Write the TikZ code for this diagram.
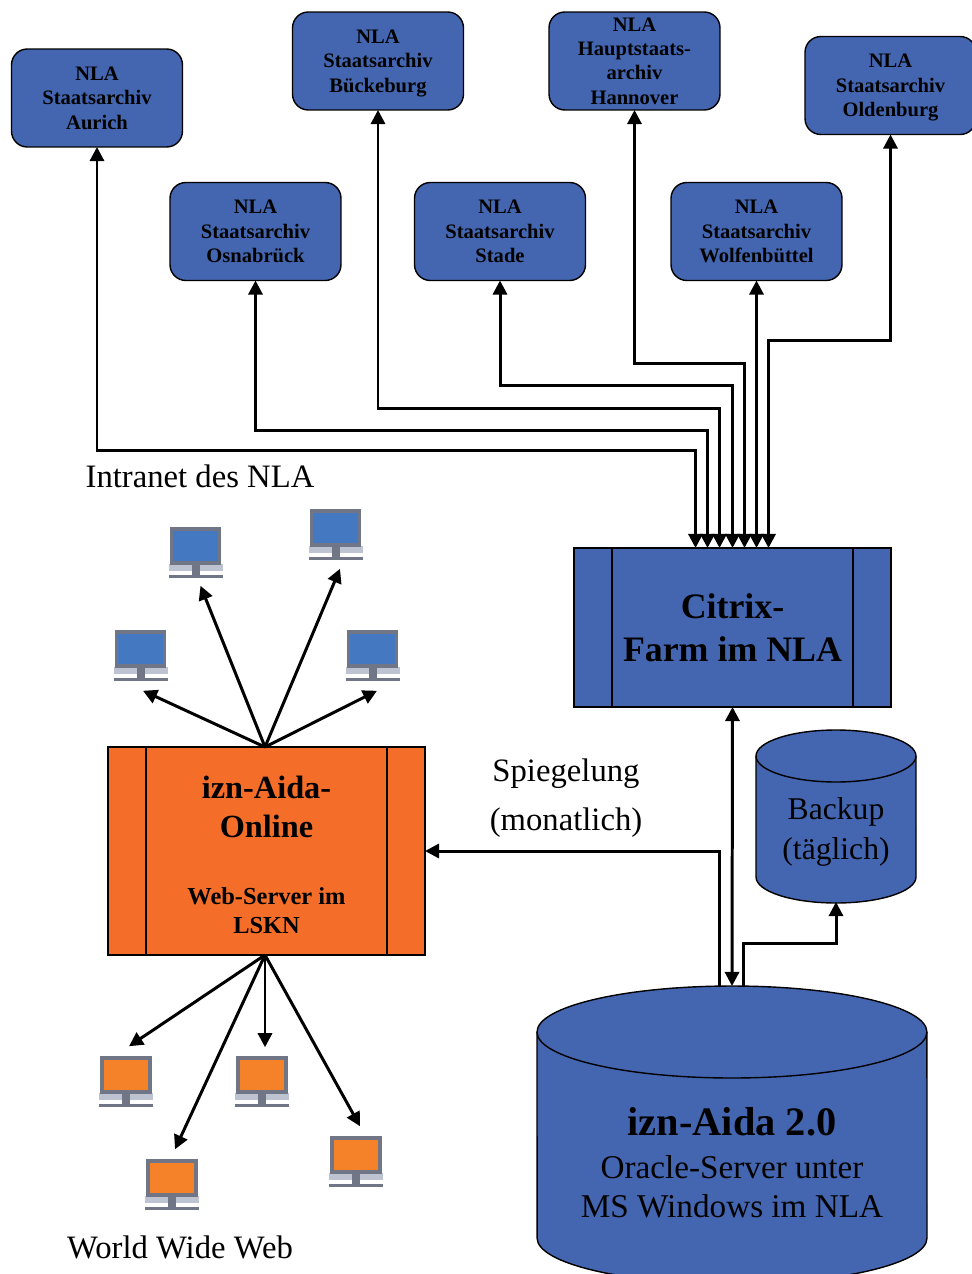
\documentclass[tikz,border=0pt]{standalone}
\usepackage{fontspec}
\setmainfont{Liberation Serif}
\usetikzlibrary{arrows.meta}
\definecolor{nlablue}{RGB}{68,102,176}
\definecolor{lsknorange}{RGB}{244,110,42}
\definecolor{screenblue}{RGB}{68,120,192}
\definecolor{screenorange}{RGB}{245,130,40}
\definecolor{framegray}{RGB}{112,118,134}
\definecolor{basegray}{RGB}{190,195,210}
\tikzset{
	archiv/.style={draw,thick,fill=nlablue,rounded corners=9pt,minimum width=3.42cm,minimum height=1.96cm,inner sep=0pt,outer sep=0pt,text depth=0pt,align=center,font=\fontsize{11.7}{13.9}\selectfont\bfseries},
	server/.style={draw,thick,inner sep=0pt,outer sep=0pt,align=center,minimum width=6.34cm,
		path picture={\draw[thick] ([xshift=0.76cm]path picture bounding box.north west) -- ([xshift=0.76cm]path picture bounding box.south west);
			\draw[thick] ([xshift=-0.76cm]path picture bounding box.north east) -- ([xshift=-0.76cm]path picture bounding box.south east);}},
	dbase/.style={draw,thick,fill=nlablue},
	dbspot/.style={inner sep=0pt,outer sep=0pt},
	dbtext/.style={align=center,inner sep=0pt},
	caption/.style={align=center,inner sep=0pt,font=\fontsize{18.6}{27.5}\selectfont},
	link/.style={line width=1.7pt,-{Triangle[width=8pt,length=8pt]}},
	linkboth/.style={line width=1.7pt,{Triangle[width=8pt,length=8pt]}-{Triangle[width=8pt,length=8pt]}},
	screen/.style={draw=framegray,line width=2pt,inner sep=0pt},
}
% screen with its stand, #1 name, #2 #3 centre of the screen, #4 colour
\newcommand{\monitor}[4]{
	\fill[basegray] (#2-27,#3+18) rectangle (#2+27,#3+25);
	\fill[framegray] (#2-4,#3+18) rectangle (#2+4,#3+29);
	\fill[framegray] (#2-27,#3+29) rectangle (#2+27,#3+31.5);
	\node[screen,fill=#4,minimum width=0.96cm,minimum height=0.68cm] (#1) at (#2,#3) {};
}
\begin{document}
\begin{tikzpicture}[x=0.02cm,y=-0.02cm]
	\useasboundingbox (0,0) rectangle (971,1274);
	% archives
	\node[archiv] (aurich) at (97,98) {NLA\\Staatsarchiv\\Aurich};
	\node[archiv] (bueckeburg) at (378,61) {NLA\\Staatsarchiv\\Bückeburg};
	\node[archiv] (hannover) at (634.5,61) {NLA\\Hauptstaats-\\archiv\\Hannover};
	\node[archiv] (oldenburg) at (890.5,85.5) {NLA\\Staatsarchiv\\Oldenburg};
	\node[archiv] (osnabrueck) at (255.5,231.5) {NLA\\Staatsarchiv\\Osnabrück};
	\node[archiv] (stade) at (500,231.5) {NLA\\Staatsarchiv\\Stade};
	\node[archiv] (wolfenbuettel) at (756.5,231.5) {NLA\\Staatsarchiv\\Wolfenbüttel};
	% servers
	\node[server,fill=nlablue,minimum height=3.18cm,font=\fontsize{20.4}{24.4}\selectfont\bfseries] (citrix) at (732.5,627.5) {Citrix-\\Farm im NLA};
	\node[server,fill=lsknorange,minimum height=4.16cm,font=\fontsize{18.4}{22}\selectfont\bfseries] (online) at (266.5,851) {\rule{0pt}{17pt}izn-Aida-\\Online\\[16pt]{\fontsize{13.9}{16.5}\selectfont Web-Server im}\\[-5.5pt]{\fontsize{13.9}{16.5}\selectfont LSKN}};
	% databases
	\draw[dbase] (756,756) arc[start angle=180,end angle=0,x radius=1.6cm,y radius=0.52cm] -- (916,877) arc[start angle=0,end angle=-180,x radius=1.6cm,y radius=0.52cm] -- cycle;
	\draw[thick] (756,756) arc[start angle=180,end angle=360,x radius=1.6cm,y radius=0.52cm];
	\node[dbspot,minimum width=3.2cm,minimum height=3.44cm] (backup) at (836,816) {};
	\draw[dbase] (537,1032) arc[start angle=180,end angle=0,x radius=3.9cm,y radius=0.92cm] -- (927,1238) arc[start angle=0,end angle=-180,x radius=3.9cm,y radius=0.92cm] -- cycle;
	\draw[thick] (537,1032) arc[start angle=180,end angle=360,x radius=3.9cm,y radius=0.92cm];
	\node[dbspot,minimum width=7.8cm,minimum height=5.96cm] (oracle) at (732,1135) {};
	\node[dbtext,font=\fontsize{18}{22.5}\selectfont] (backuptext) at (836,832) {Backup\\(täglich)};
	\node[dbtext,font=\fontsize{18.9}{22}\selectfont] (oracletext) at (732,1163) {{\fontsize{23}{26}\selectfont\bfseries izn-Aida 2.0}\\[2.5pt]Oracle-Server unter\\MS Windows im NLA};
	% captions
	\node[caption] (intranet) at (200,476) {Intranet des NLA};
	\node[caption] (www) at (180,1247) {World Wide Web};
	\node[caption] (spiegelung) at (566,798) {Spiegelung\\(monatlich)};
	% monitors
	\monitor{pcA}{195.5}{546}{screenblue}
	\monitor{pcB}{335.5}{528}{screenblue}
	\monitor{pcC}{140.5}{649}{screenblue}
	\monitor{pcD}{372.5}{649}{screenblue}
	\monitor{webA}{126}{1075}{screenorange}
	\monitor{webB}{262}{1075}{screenorange}
	\monitor{webC}{172}{1178}{screenorange}
	\monitor{webD}{356}{1155}{screenorange}
	% intranet lines
	\draw[linkboth] ([shift={(-37,0)}]citrix.north) -- ++(0,-98) -| (aurich.south);
	\draw[linkboth] ([shift={(-25,0)}]citrix.north) -- ++(0,-118) -| (osnabrueck.south);
	\draw[linkboth] ([shift={(-13,0)}]citrix.north) -- ++(0,-140) -| (bueckeburg.south);
	\draw[linkboth] (citrix.north) -- ++(0,-163) -| (stade.south);
	\draw[linkboth] ([shift={(12,0)}]citrix.north) -- ++(0,-185) -| (hannover.south);
	\draw[linkboth] ([shift={(24,0)}]citrix.north) -- (wolfenbuettel.south);
	\draw[linkboth] ([shift={(36,0)}]citrix.north) -- ++(0,-208) -| (oldenburg.south);
	% database lines
	\draw[linkboth] (oracle.north) -- (citrix.south);
	\draw[link] ([shift={(-13,0)}]oracle.north) |- (online.east);
	\draw[link] ([shift={(11,0)}]oracle.north) -- ++(0,-43) -| (backup.south);
	% online lines
	\draw[link] ([shift={(-1.5,0)}]online.north) -- ([shift={(5,21)}]pcA.south);
	\draw[link] ([shift={(-1.5,0)}]online.north) -- ([shift={(4.5,22)}]pcB.south);
	\draw[link] ([shift={(-1.5,0)}]online.north) -- ([shift={(2.5,23)}]pcC.south);
	\draw[link] ([shift={(-1.5,0)}]online.north) -- ([shift={(4.5,23)}]pcD.south);
	\draw[link] ([shift={(-1.5,0)}]online.south) -- ([shift={(3,-10)}]webA.north);
	\draw[link] ([shift={(-1.5,0)}]online.south) -- ([shift={(3,-9)}]webB.north);
	\draw[link] ([shift={(-1.5,0)}]online.south) -- ([shift={(3,-10)}]webC.north);
	\draw[link] ([shift={(-1.5,0)}]online.south) -- ([shift={(4,-10)}]webD.north);
\end{tikzpicture}
\end{document}
